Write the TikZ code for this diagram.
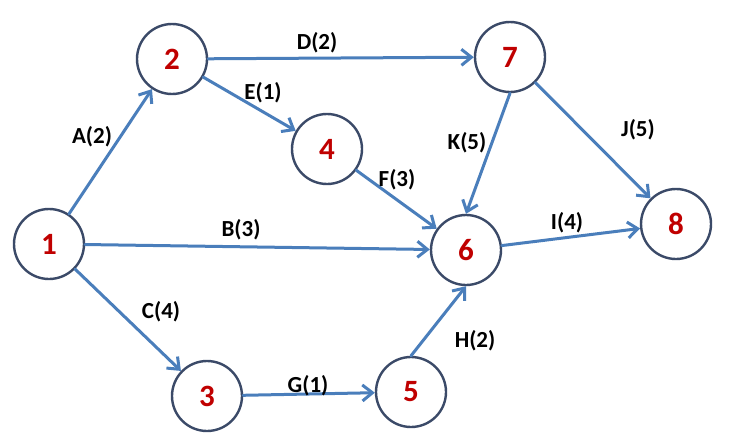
\documentclass[tikz,border=0pt]{standalone}
\usepackage{fontspec}
\setmainfont{Carlito}
\usetikzlibrary{arrows.meta}
\definecolor{linkblue}{HTML}{4A7EBB}
\definecolor{ringnavy}{HTML}{3B4A68}
\definecolor{numred}{HTML}{C00000}
\tikzset{
	event/.style={circle, draw=ringnavy, line width=2.4pt, fill=white, minimum size=70pt, inner sep=0pt,
		text=numred, font=\fontsize{31}{37}\selectfont\bfseries},
	lbl/.style={inner sep=0pt, font=\fontsize{23}{27}\selectfont\bfseries},
	link/.style={->, draw=linkblue, line width=3pt}
}
\begin{document}
\begin{tikzpicture}[x=1pt, y=-1pt, >={Straight Barb[length=10pt, width=16pt]}, line join=round, line cap=round]
	\useasboundingbox (0,0) rectangle (738,444);
	% 1. Các sự kiện (nút)
	\node[event] (n1) at (49,244) {1};
	\node[event] (n2) at (172,59) {2};
	\node[event] (n3) at (207,396) {3};
	\node[event] (n4) at (327,149) {4};
	\node[event] (n5) at (411,392) {5};
	\node[event] (n6) at (466,250) {6};
	\node[event] (n7) at (510,57) {7};
	\node[event] (n8) at (676,224) {8};
	
	% 2. Các công việc (mũi tên)
	\draw[link] (n1) -- (n2);
	\draw[link] (n1) -- (n6);
	\draw[link] (n1) -- (n3);
	\draw[link] (n2) -- (n7);
	\draw[link] (n2) -- (n4);
	\draw[link] (n4) -- (n6);
	\draw[link] (n3) -- (n5);
	\draw[link] (n5.north) -- (n6.south);
	\draw[link] (n7.south) -- (n6.north);
	\draw[link] (n7) -- (n8);
	\draw[link] (n6) -- (n8);
	
	% 3. Nhãn công việc
	\node[lbl] (lA) at (92,137) {A(2)};
	\node[lbl] (lB) at (241,230) {B(3)};
	\node[lbl] (lC) at (161,312) {C(4)};
	\node[lbl] (lD) at (317,43) {D(2)};
	\node[lbl] (lE) at (263,93) {E(1)};
	\node[lbl] (lF) at (397,180) {F(3)};
	\node[lbl] (lG) at (308,386) {G(1)};
	\node[lbl] (lH) at (475,341) {H(2)};
	\node[lbl] (lI) at (567,223) {I(4)};
	\node[lbl] (lJ) at (638,130) {J(5)};
	\node[lbl] (lK) at (467,143) {K(5)};
\end{tikzpicture}
\end{document}
